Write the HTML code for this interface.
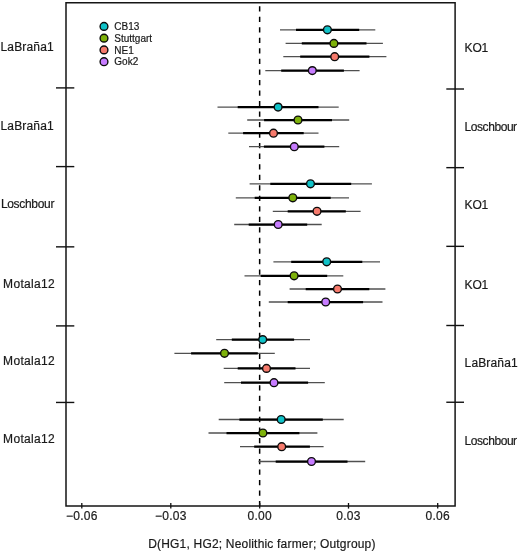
<!DOCTYPE html>
<html><head><meta charset="utf-8"><title>D statistics</title>
<style>
html,body{margin:0;padding:0;background:#fff;}
svg{display:block;will-change:transform;}
text{font-family:"Liberation Sans",sans-serif;fill:#1a1a1a;stroke:#1a1a1a;stroke-width:0.2px;}
</style></head><body>
<svg width="520" height="553" viewBox="0 0 520 553">
<rect x="0" y="0" width="520" height="553" fill="#ffffff"/>
<line x1="259.65" y1="2.75" x2="259.65" y2="506.0" stroke="#000" stroke-width="1.5" stroke-dasharray="5.27 5.26" stroke-dashoffset="7.08"/>
<line x1="280.0" y1="29.8" x2="375.3" y2="29.8" stroke="#505050" stroke-width="1.3"/>
<line x1="296.0" y1="29.8" x2="359.2" y2="29.8" stroke="#000" stroke-width="2.25"/>
<circle cx="327.4" cy="29.8" r="3.9" fill="#10C2C8" stroke="#0c0c0c" stroke-width="1.4"/>
<line x1="285.6" y1="43.4" x2="382.9" y2="43.4" stroke="#505050" stroke-width="1.3"/>
<line x1="301.8" y1="43.4" x2="366.5" y2="43.4" stroke="#000" stroke-width="2.25"/>
<circle cx="333.9" cy="43.4" r="3.9" fill="#7DB10A" stroke="#0c0c0c" stroke-width="1.4"/>
<line x1="283.3" y1="56.7" x2="386.4" y2="56.7" stroke="#505050" stroke-width="1.3"/>
<line x1="300.2" y1="56.7" x2="369.4" y2="56.7" stroke="#000" stroke-width="2.25"/>
<circle cx="334.7" cy="56.7" r="3.9" fill="#F67A6C" stroke="#0c0c0c" stroke-width="1.4"/>
<line x1="265.3" y1="70.6" x2="359.6" y2="70.6" stroke="#505050" stroke-width="1.3"/>
<line x1="281.2" y1="70.6" x2="343.9" y2="70.6" stroke="#000" stroke-width="2.25"/>
<circle cx="312.3" cy="70.6" r="3.9" fill="#C77CFF" stroke="#0c0c0c" stroke-width="1.4"/>
<line x1="217.5" y1="107.1" x2="338.7" y2="107.1" stroke="#505050" stroke-width="1.3"/>
<line x1="237.7" y1="107.1" x2="318.5" y2="107.1" stroke="#000" stroke-width="2.25"/>
<circle cx="278.1" cy="107.1" r="3.9" fill="#10C2C8" stroke="#0c0c0c" stroke-width="1.4"/>
<line x1="247.2" y1="120.0" x2="349.2" y2="120.0" stroke="#505050" stroke-width="1.3"/>
<line x1="264.1" y1="120.0" x2="332.0" y2="120.0" stroke="#000" stroke-width="2.25"/>
<circle cx="298.0" cy="120.0" r="3.9" fill="#7DB10A" stroke="#0c0c0c" stroke-width="1.4"/>
<line x1="228.3" y1="133.2" x2="318.5" y2="133.2" stroke="#505050" stroke-width="1.3"/>
<line x1="243.1" y1="133.2" x2="303.7" y2="133.2" stroke="#000" stroke-width="2.25"/>
<circle cx="273.5" cy="133.2" r="3.9" fill="#F67A6C" stroke="#0c0c0c" stroke-width="1.4"/>
<line x1="249.0" y1="146.7" x2="339.2" y2="146.7" stroke="#505050" stroke-width="1.3"/>
<line x1="263.9" y1="146.7" x2="324.4" y2="146.7" stroke="#000" stroke-width="2.25"/>
<circle cx="294.3" cy="146.7" r="3.9" fill="#C77CFF" stroke="#0c0c0c" stroke-width="1.4"/>
<line x1="249.6" y1="183.8" x2="371.9" y2="183.8" stroke="#505050" stroke-width="1.3"/>
<line x1="270.3" y1="183.8" x2="351.2" y2="183.8" stroke="#000" stroke-width="2.25"/>
<circle cx="310.5" cy="183.8" r="3.9" fill="#10C2C8" stroke="#0c0c0c" stroke-width="1.4"/>
<line x1="235.8" y1="197.8" x2="349.0" y2="197.8" stroke="#505050" stroke-width="1.3"/>
<line x1="254.7" y1="197.8" x2="330.7" y2="197.8" stroke="#000" stroke-width="2.25"/>
<circle cx="292.8" cy="197.8" r="3.9" fill="#7DB10A" stroke="#0c0c0c" stroke-width="1.4"/>
<line x1="272.8" y1="211.3" x2="360.6" y2="211.3" stroke="#505050" stroke-width="1.3"/>
<line x1="287.7" y1="211.3" x2="345.8" y2="211.3" stroke="#000" stroke-width="2.25"/>
<circle cx="317.0" cy="211.3" r="3.9" fill="#F67A6C" stroke="#0c0c0c" stroke-width="1.4"/>
<line x1="234.2" y1="224.5" x2="321.7" y2="224.5" stroke="#505050" stroke-width="1.3"/>
<line x1="248.7" y1="224.5" x2="307.2" y2="224.5" stroke="#000" stroke-width="2.25"/>
<circle cx="278.2" cy="224.5" r="3.9" fill="#C77CFF" stroke="#0c0c0c" stroke-width="1.4"/>
<line x1="273.4" y1="261.8" x2="380.0" y2="261.8" stroke="#505050" stroke-width="1.3"/>
<line x1="291.2" y1="261.8" x2="362.3" y2="261.8" stroke="#000" stroke-width="2.25"/>
<circle cx="326.7" cy="261.8" r="3.9" fill="#10C2C8" stroke="#0c0c0c" stroke-width="1.4"/>
<line x1="244.5" y1="275.8" x2="343.3" y2="275.8" stroke="#505050" stroke-width="1.3"/>
<line x1="260.7" y1="275.8" x2="327.2" y2="275.8" stroke="#000" stroke-width="2.25"/>
<circle cx="294.1" cy="275.8" r="3.9" fill="#7DB10A" stroke="#0c0c0c" stroke-width="1.4"/>
<line x1="289.6" y1="289.0" x2="385.4" y2="289.0" stroke="#505050" stroke-width="1.3"/>
<line x1="305.7" y1="289.0" x2="369.3" y2="289.0" stroke="#000" stroke-width="2.25"/>
<circle cx="337.5" cy="289.0" r="3.9" fill="#F67A6C" stroke="#0c0c0c" stroke-width="1.4"/>
<line x1="268.8" y1="302.0" x2="382.5" y2="302.0" stroke="#505050" stroke-width="1.3"/>
<line x1="287.7" y1="302.0" x2="363.1" y2="302.0" stroke="#000" stroke-width="2.25"/>
<circle cx="325.7" cy="302.0" r="3.9" fill="#C77CFF" stroke="#0c0c0c" stroke-width="1.4"/>
<line x1="216.2" y1="339.6" x2="310.0" y2="339.6" stroke="#505050" stroke-width="1.3"/>
<line x1="231.8" y1="339.6" x2="294.1" y2="339.6" stroke="#000" stroke-width="2.25"/>
<circle cx="262.7" cy="339.6" r="3.9" fill="#10C2C8" stroke="#0c0c0c" stroke-width="1.4"/>
<line x1="174.4" y1="353.3" x2="274.8" y2="353.3" stroke="#505050" stroke-width="1.3"/>
<line x1="191.1" y1="353.3" x2="257.8" y2="353.3" stroke="#000" stroke-width="2.25"/>
<circle cx="224.5" cy="353.3" r="3.9" fill="#7DB10A" stroke="#0c0c0c" stroke-width="1.4"/>
<line x1="223.7" y1="368.4" x2="310.0" y2="368.4" stroke="#505050" stroke-width="1.3"/>
<line x1="237.7" y1="368.4" x2="295.5" y2="368.4" stroke="#000" stroke-width="2.25"/>
<circle cx="266.5" cy="368.4" r="3.9" fill="#F67A6C" stroke="#0c0c0c" stroke-width="1.4"/>
<line x1="224.2" y1="382.7" x2="324.8" y2="382.7" stroke="#505050" stroke-width="1.3"/>
<line x1="241.0" y1="382.7" x2="308.1" y2="382.7" stroke="#000" stroke-width="2.25"/>
<circle cx="274.0" cy="382.7" r="3.9" fill="#C77CFF" stroke="#0c0c0c" stroke-width="1.4"/>
<line x1="218.7" y1="419.5" x2="343.7" y2="419.5" stroke="#505050" stroke-width="1.3"/>
<line x1="239.4" y1="419.5" x2="322.8" y2="419.5" stroke="#000" stroke-width="2.25"/>
<circle cx="281.2" cy="419.5" r="3.9" fill="#10C2C8" stroke="#0c0c0c" stroke-width="1.4"/>
<line x1="208.5" y1="433.0" x2="317.4" y2="433.0" stroke="#505050" stroke-width="1.3"/>
<line x1="226.5" y1="433.0" x2="299.4" y2="433.0" stroke="#000" stroke-width="2.25"/>
<circle cx="262.9" cy="433.0" r="3.9" fill="#7DB10A" stroke="#0c0c0c" stroke-width="1.4"/>
<line x1="240.0" y1="446.7" x2="323.6" y2="446.7" stroke="#505050" stroke-width="1.3"/>
<line x1="254.2" y1="446.7" x2="309.9" y2="446.7" stroke="#000" stroke-width="2.25"/>
<circle cx="281.7" cy="446.7" r="3.9" fill="#F67A6C" stroke="#0c0c0c" stroke-width="1.4"/>
<line x1="258.5" y1="461.5" x2="365.2" y2="461.5" stroke="#505050" stroke-width="1.3"/>
<line x1="275.7" y1="461.5" x2="347.5" y2="461.5" stroke="#000" stroke-width="2.25"/>
<circle cx="311.5" cy="461.5" r="3.9" fill="#C77CFF" stroke="#0c0c0c" stroke-width="1.4"/>
<rect x="66.0" y="2.75" width="389.1" height="503.25" fill="none" stroke="#151515" stroke-width="1.5"/>
<line x1="56.0" y1="87.9" x2="74.3" y2="87.9" stroke="#111" stroke-width="1.4"/>
<line x1="56.0" y1="166.6" x2="74.3" y2="166.6" stroke="#111" stroke-width="1.4"/>
<line x1="56.0" y1="246.85" x2="74.3" y2="246.85" stroke="#111" stroke-width="1.4"/>
<line x1="56.0" y1="325.9" x2="74.3" y2="325.9" stroke="#111" stroke-width="1.4"/>
<line x1="56.0" y1="402.45" x2="74.3" y2="402.45" stroke="#111" stroke-width="1.4"/>
<line x1="446.3" y1="89.0" x2="464.0" y2="89.0" stroke="#111" stroke-width="1.4"/>
<line x1="446.3" y1="167.65" x2="464.0" y2="167.65" stroke="#111" stroke-width="1.4"/>
<line x1="446.3" y1="246.35" x2="464.0" y2="246.35" stroke="#111" stroke-width="1.4"/>
<line x1="446.3" y1="325.5" x2="464.0" y2="325.5" stroke="#111" stroke-width="1.4"/>
<line x1="446.3" y1="402.25" x2="464.0" y2="402.25" stroke="#111" stroke-width="1.4"/>
<line x1="81.8" y1="508.6" x2="81.8" y2="503.0" stroke="#111" stroke-width="1.3"/>
<text x="81.8" y="520.3" font-size="12" text-anchor="middle" letter-spacing="0.27">−0.06</text>
<line x1="170.8" y1="508.6" x2="170.8" y2="503.0" stroke="#111" stroke-width="1.3"/>
<text x="170.8" y="520.3" font-size="12" text-anchor="middle" letter-spacing="0.27">−0.03</text>
<line x1="259.7" y1="508.6" x2="259.7" y2="503.0" stroke="#111" stroke-width="1.3"/>
<text x="259.7" y="520.3" font-size="12" text-anchor="middle" letter-spacing="0.27">0.00</text>
<line x1="348.5" y1="508.6" x2="348.5" y2="503.0" stroke="#111" stroke-width="1.3"/>
<text x="348.5" y="520.3" font-size="12" text-anchor="middle" letter-spacing="0.27">0.03</text>
<line x1="437.7" y1="508.6" x2="437.7" y2="503.0" stroke="#111" stroke-width="1.3"/>
<text x="437.7" y="520.3" font-size="12" text-anchor="middle" letter-spacing="0.27">0.06</text>
<text x="0.5" y="51.1" font-size="12" letter-spacing="0.157">LaBraña1</text>
<text x="0.5" y="130.0" font-size="12" letter-spacing="0.157">LaBraña1</text>
<text x="0.9" y="208.0" font-size="12" letter-spacing="-0.31">Loschbour</text>
<text x="3.1" y="287.6" font-size="12" letter-spacing="0.31">Motala12</text>
<text x="3.1" y="365.4" font-size="12" letter-spacing="0.31">Motala12</text>
<text x="3.1" y="443.4" font-size="12" letter-spacing="0.31">Motala12</text>
<text x="464.6" y="52.4" font-size="12" letter-spacing="-0.17">KO1</text>
<text x="464.6" y="131.4" font-size="12" letter-spacing="-0.44">Loschbour</text>
<text x="464.6" y="209.4" font-size="12" letter-spacing="-0.17">KO1</text>
<text x="464.6" y="288.75" font-size="12" letter-spacing="-0.17">KO1</text>
<text x="464.6" y="367.0" font-size="12" letter-spacing="0.14">LaBraña1</text>
<text x="464.6" y="444.75" font-size="12" letter-spacing="-0.44">Loschbour</text>
<circle cx="104.0" cy="26.4" r="3.9" fill="#10C2C8" stroke="#0c0c0c" stroke-width="1.4"/>
<text x="114.3" y="30.099999999999998" font-size="10">CB13</text>
<circle cx="104.0" cy="38.15" r="3.9" fill="#7DB10A" stroke="#0c0c0c" stroke-width="1.4"/>
<text x="114.3" y="41.85" font-size="10">Stuttgart</text>
<circle cx="104.0" cy="49.9" r="3.9" fill="#F67A6C" stroke="#0c0c0c" stroke-width="1.4"/>
<text x="114.3" y="53.6" font-size="10">NE1</text>
<circle cx="104.0" cy="61.7" r="3.9" fill="#C77CFF" stroke="#0c0c0c" stroke-width="1.4"/>
<text x="114.3" y="65.4" font-size="10">Gok2</text>
<text x="148.2" y="547.8" font-size="12" letter-spacing="0.19">D(HG1, HG2; Neolithic farmer; Outgroup)</text>
</svg></body></html>
